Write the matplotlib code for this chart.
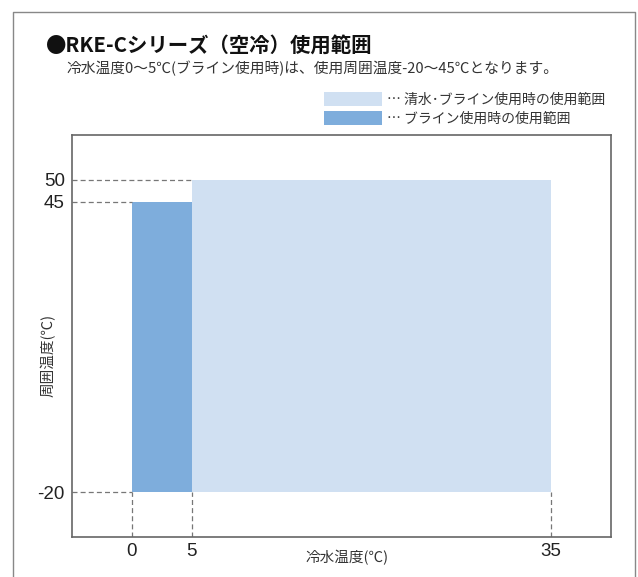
import matplotlib.pyplot as plt
from matplotlib.lines import Line2D
from matplotlib.patches import Patch

plt.rcParams['font.family'] = ['Noto Sans CJK JP', 'DejaVu Sans']
plt.rcParams['axes.unicode_minus'] = False

title = '●RKE-Cシリーズ（空冷）使用範囲'
subtitle = '冷水温度0～5℃(ブライン使用時)は、使用周囲温度-20～45℃となります。'
x_label = '冷水温度(℃)'
y_label = '周囲温度(℃)'

# usable ranges: chilled water temp (x) and ambient temp (y)
range_names = ['… 清水･ブライン使用時の使用範囲', '… ブライン使用時の使用範囲']
range_x = [[5, 35], [0, 5]]
range_y = [[-20, 50], [-20, 45]]
range_colors = ['#d0e0f2', '#7eaddc']

x_ticks = [0, 5, 35]
y_ticks = [-20, 45, 50]
x_lim = [-5, 40]
y_lim = [-30, 60]


def main():
    W, H = 638, 577
    fig = plt.figure(figsize=(W / 100, H / 100), dpi=100)
    ax = fig.add_axes([71.7 / W, 1 - 537 / H, (611 - 71.7) / W, (537 - 135) / H])

    # the two areas
    for xs, ys, c in zip(range_x, range_y, range_colors):
        ax.bar(xs[0], ys[1] - ys[0], width=xs[1] - xs[0], bottom=ys[0],
               align='edge', color=c, linewidth=0, zorder=1)

    # dashed guide lines
    dash = dict(colors='#777777', linestyles=(0, (4, 2.5)), linewidth=0.9, zorder=2)
    for xs, ys in zip(range_x, range_y):
        ax.hlines(ys[1], x_lim[0], xs[0], **dash)
    ax.hlines(min(r[0] for r in range_y), x_lim[0], min(r[0] for r in range_x), **dash)
    ax.vlines(x_ticks, y_lim[0], min(r[0] for r in range_y), **dash)

    ax.set_xlim(x_lim)
    ax.set_ylim(y_lim)
    ax.set_xticks(x_ticks)
    ax.set_yticks(y_ticks)
    ax.tick_params(length=0, labelsize=13.5, colors='#222222')
    ax.tick_params(axis='y', pad=5)
    ax.tick_params(axis='x', pad=4)
    for lab in ax.get_xticklabels() + ax.get_yticklabels():
        lab.set_family(['Liberation Sans', 'DejaVu Sans'])
    for s in ax.spines.values():
        s.set_color('#666666')
        s.set_linewidth(1.2)

    fig.text(347 / W, 1 - 558 / H, x_label, ha='center', va='center',
             fontsize=10.5, color='#333333')
    fig.text(48 / W, 1 - 355 / H, y_label, ha='center', va='center',
             rotation=90, fontsize=10.5, color='#333333')

    fig.text(46 / W, 1 - 45 / H, title, ha='left', va='center',
             fontsize=14.7, fontweight='bold', color='#111111')
    fig.text(66 / W, 1 - 68 / H, subtitle, ha='left', va='center',
             fontsize=10.6, color='#333333')

    handles = [Patch(facecolor=c, edgecolor='none') for c in range_colors]
    fig.legend(handles, range_names, loc='upper left',
               bbox_to_anchor=(324 / W, 1 - 92 / H), frameon=False,
               fontsize=10, handlelength=4.2, handleheight=1.2,
               handletextpad=0.35, labelspacing=0.3, borderpad=0,
               borderaxespad=0, labelcolor='#333333')

    # outer frame (open at the bottom)
    fig.add_artist(Line2D([13 / W, 13 / W, 635 / W, 635 / W],
                          [-0.01, 1 - 12 / H, 1 - 12 / H, -0.01],
                          transform=fig.transFigure, color='#888888', linewidth=1))

    fig.savefig('out.png', dpi=100)


if __name__ == '__main__':
    main()
